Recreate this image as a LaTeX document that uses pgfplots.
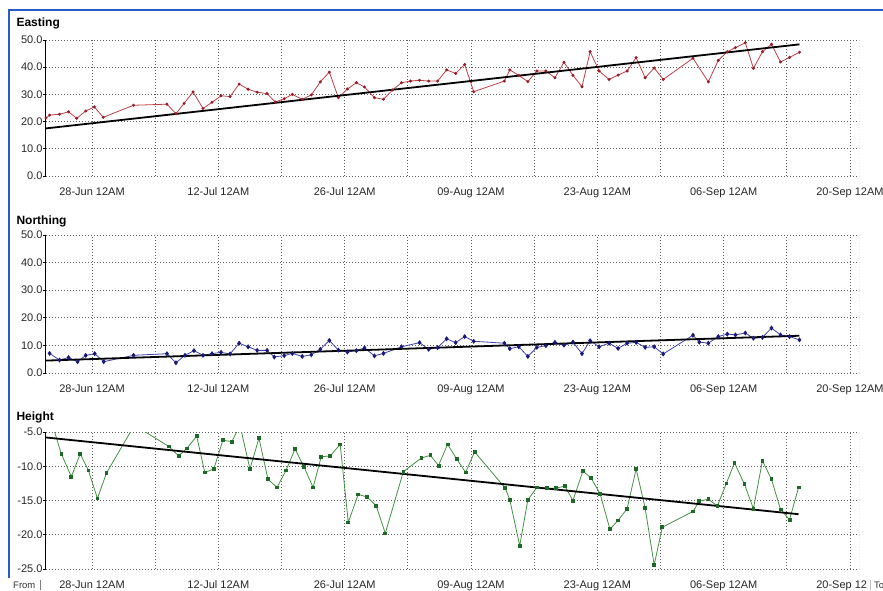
\documentclass[border=0pt]{standalone}
\usepackage{pgfplots}
\pgfplotsset{compat=1.18}
\usepackage{fontspec}
\setmainfont{Liberation Sans}
\definecolor{ered}{RGB}{192,64,72}
\definecolor{eredm}{RGB}{150,30,40}
\definecolor{nblue}{RGB}{64,64,176}
\definecolor{nbluem}{RGB}{25,25,120}
\definecolor{hgreen}{RGB}{70,145,70}
\definecolor{hgreenm}{RGB}{30,105,40}
\definecolor{winblue}{RGB}{40,90,200}
\definecolor{gridc}{RGB}{95,95,95}
\pgfplotsset{
  panel/.style={
    scale only axis, width=813pt,
    xmin=-5.1, xmax=85,
    axis x line=bottom, axis y line=left,
    x axis line style={draw=none},
    y axis line style={-, black, line width=1pt},
    xtick={0,14,...,84},
    minor xtick={7,21,...,77},
    xtick style={draw=none},
    minor tick length=0pt,
    tick align=outside,
    major tick length=3pt,
    ytick style={black, line width=0.8pt},
    xmajorgrids, xminorgrids, ymajorgrids,
    major grid style={gridc, line width=0.8pt, dash pattern=on 0.8pt off 2.2pt},
    minor grid style={gridc, line width=0.8pt, dash pattern=on 0.8pt off 2.2pt},
    tick label style={font=\fontsize{11}{12}\selectfont, text=black!85},
    xticklabel style={yshift=-5pt},
    yticklabel style={xshift=3pt},
    /pgf/number format/.cd, fixed, fixed zerofill, precision=1, assume math mode=true,
  },
  trend/.style={black, line width=1.8pt, no marks},
}
\begin{document}
\begin{tikzpicture}[x=1pt,y=1pt]
\useasboundingbox (0,0) rectangle (883,590);
% window border
\draw[winblue, line width=2pt] (8.5,12) -- (8.5,580) -- (883,580);
% Easting
\node[anchor=base west, font=\bfseries\fontsize{12}{14}\selectfont] at (13,563) {Easting};
\begin{axis}[panel, at={(46pt,414pt)}, anchor=south west, height=136pt,
  ymin=0, ymax=50, ytick={0,10,...,50},
  xticklabels={28-Jun 12AM,12-Jul 12AM,26-Jul 12AM,09-Aug 12AM,23-Aug 12AM,06-Sep 12AM,20-Sep 12AM}]
\addplot[ered, line width=0.8pt, mark=*, mark size=1.1pt, mark options={eredm, fill=eredm}] coordinates {
(-5.1,21.3) (-4.7,22.4) (-3.6,22.7) (-2.6,23.6) (-1.7,21.2) (-0.7,23.9) (0.25,25.4) (1.25,21.6) (4.6,26.0) (8.3,26.4) (9.3,22.9) (10.2,26.7) (11.2,30.9) (12.3,24.8) (13.3,27.1) (14.3,29.5) (15.3,29.2) (16.3,33.8) (17.3,31.9) (18.3,30.8) (19.4,30.3) (20.3,27.2) (21.3,28.4) (22.2,30.0) (23.3,28.2) (24.3,29.8) (25.3,34.6) (26.3,38.2) (27.3,28.8) (28.3,32.0) (29.3,34.3) (30.2,32.7) (31.3,28.8) (32.3,28.2) (33.3,31.6) (34.3,34.3) (35.3,34.9) (36.3,35.2) (37.3,34.9) (38.3,34.9) (39.3,39.0) (40.3,37.7) (41.3,41.0) (42.3,31.0) (45.7,34.9) (46.3,39.0) (47.3,37.0) (48.3,34.7) (49.3,38.6) (50.3,38.6) (51.3,36.1) (52.3,41.8) (53.3,37.0) (54.3,32.8) (55.2,45.7) (56.2,38.6) (57.3,35.5) (58.3,37.1) (59.3,38.6) (60.3,43.5) (61.3,36.1) (62.3,39.7) (63.3,35.5) (66.6,43.3) (68.3,34.6) (69.4,42.5) (70.4,45.7) (71.3,47.2) (72.4,49.0) (73.3,39.6) (74.3,45.7) (75.3,48.4) (76.3,41.9) (77.3,43.6) (78.4,45.5)
};
\addplot[trend] coordinates {(-5.1,17.5) (78.4,48.4)};
\draw[gridc, line width=0.8pt, dash pattern=on 0.8pt off 2.2pt] (rel axis cs:1,0) -- (rel axis cs:1,1);
\end{axis}
% Northing
\node[anchor=base west, font=\bfseries\fontsize{12}{14}\selectfont] at (13,366) {Northing};
\begin{axis}[panel, at={(46pt,217pt)}, anchor=south west, height=138pt,
  ymin=0, ymax=50, ytick={0,10,...,50},
  xticklabels={28-Jun 12AM,12-Jul 12AM,26-Jul 12AM,09-Aug 12AM,23-Aug 12AM,06-Sep 12AM,20-Sep 12AM}]
\addplot[nblue, line width=0.8pt, mark=diamond*, mark size=1.9pt, mark options={nbluem, fill=nbluem}] coordinates {
(-4.7,7.1) (-3.6,4.7) (-2.6,5.6) (-1.6,4.1) (-0.7,6.4) (0.3,7.0) (1.3,4.1) (4.6,6.4) (8.3,7.0) (9.3,3.7) (10.3,6.4) (11.3,8.1) (12.3,6.4) (13.3,7.0) (14.3,7.5) (15.3,6.9) (16.3,10.8) (17.3,9.5) (18.3,8.2) (19.4,8.2) (20.2,5.8) (21.3,6.3) (22.2,7.1) (23.3,6.0) (24.3,6.6) (25.3,8.6) (26.3,11.8) (27.3,8.3) (28.3,7.6) (29.3,8.1) (30.2,9.1) (31.3,6.2) (32.3,7.1) (34.3,9.5) (36.3,11.0) (37.3,8.6) (38.3,9.2) (39.3,12.4) (40.3,11.0) (41.3,13.2) (42.3,11.5) (45.7,10.8) (46.3,8.8) (47.3,9.5) (48.3,6.0) (49.3,9.3) (50.3,9.9) (51.3,11.1) (52.3,10.1) (53.3,11.2) (54.3,7.0) (55.2,11.7) (56.2,9.5) (57.3,10.8) (58.3,8.9) (59.3,10.8) (60.3,11.1) (61.3,9.3) (62.3,9.5) (63.3,6.9) (66.6,13.7) (67.3,11.2) (68.3,10.8) (69.4,13.2) (70.4,14.1) (71.3,13.8) (72.4,14.5) (73.3,12.6) (74.3,12.9) (75.3,16.3) (76.3,13.8) (77.3,13.2) (78.4,12.0)
};
\addplot[trend] coordinates {(-5.1,4.5) (78.4,13.5)};
\draw[gridc, line width=0.8pt, dash pattern=on 0.8pt off 2.2pt] (rel axis cs:1,0) -- (rel axis cs:1,1);
\end{axis}
% Height
\node[anchor=base west, font=\bfseries\fontsize{12}{14}\selectfont] at (13,169.5) {Height};
\begin{axis}[panel, at={(46pt,21pt)}, anchor=south west, height=137pt,
  ymin=-25, ymax=-5, ytick={-25,-20,...,-5},
  xticklabels={28-Jun 12AM,12-Jul 12AM,26-Jul 12AM,09-Aug 12AM,23-Aug 12AM,06-Sep 12AM,20-Sep 12\phantom{AM}}]
\addplot[hgreen, line width=0.8pt, mark=square*, mark size=1.4pt, mark options={hgreenm, fill=hgreenm}] coordinates {
(-4.7,-2.6) (-3.4,-8.2) (-2.3,-11.5) (-1.3,-8.2) (-0.4,-10.6) (0.6,-14.7) (1.6,-11.0) (4.7,-4.0) (8.5,-7.1) (9.6,-8.5) (10.5,-7.4) (11.6,-5.6) (12.5,-10.9) (13.5,-10.4) (14.5,-6.2) (15.5,-6.4) (16.4,-4.0) (17.5,-10.4) (18.5,-5.9) (19.5,-11.9) (20.5,-13.1) (21.5,-10.6) (22.5,-7.5) (23.5,-10.1) (24.5,-13.1) (25.4,-8.6) (26.4,-8.5) (27.5,-6.8) (28.4,-18.2) (29.5,-14.1) (30.5,-14.5) (31.5,-15.8) (32.5,-19.8) (34.5,-10.8) (36.5,-8.8) (37.5,-8.4) (38.4,-9.9) (39.4,-6.8) (40.4,-8.9) (41.4,-10.9) (42.4,-7.9) (45.8,-13.2) (46.3,-14.9) (47.4,-21.6) (48.3,-14.9) (49.3,-13.1) (50.4,-13.2) (51.4,-13.2) (52.4,-12.9) (53.3,-15.0) (54.4,-10.7) (55.3,-11.7) (56.3,-14.0) (57.4,-19.2) (58.3,-17.9) (59.3,-16.2) (60.3,-10.4) (61.3,-16.1) (62.3,-24.4) (63.2,-18.9) (66.6,-16.6) (67.3,-15.1) (68.3,-14.8) (69.3,-15.8) (70.3,-12.5) (71.2,-9.5) (72.3,-12.6) (73.3,-16.2) (74.3,-9.2) (75.3,-11.9) (76.3,-16.3) (77.3,-17.8) (78.3,-13.1)
};
\addplot[trend] coordinates {(-5.1,-5.8) (78.3,-17.0)};
\draw[gridc, line width=0.8pt, dash pattern=on 0.8pt off 2.2pt] (rel axis cs:1,0) -- (rel axis cs:1,1);
\end{axis}
% footer bits
\node[anchor=base west, font=\fontsize{9.5}{10}\selectfont, text=black!80, inner sep=0pt] at (13,1.5) {From};
\draw[gray, line width=0.8pt] (40,0) -- (40,10);
\draw[gray!50, line width=0.6pt] (870,0) -- (870,10);
\node[anchor=base west, font=\fontsize{9.5}{10}\selectfont, text=black!80, inner sep=0pt] at (874,1.5) {To};
\end{tikzpicture}
\end{document}
